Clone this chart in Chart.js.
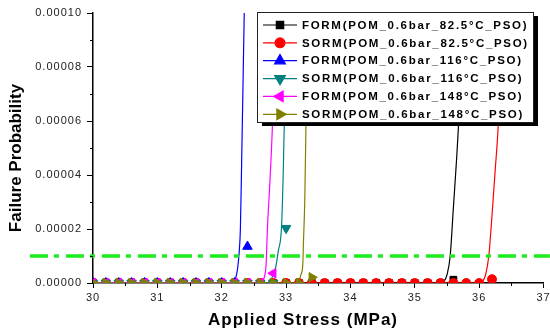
<!DOCTYPE html>
<html>
<head>
<meta charset="utf-8">
<script src="https://cdn.jsdelivr.net/npm/chart.js@4.4.1/dist/chart.umd.min.js"></script>
<style>
  html, body { margin: 0; padding: 0; background: #fff; }
</style>
</head>
<body>
<canvas id="chart" width="550" height="332"></canvas>
<script>
// stress values (MPa) where the symbols are placed
const markerStress = [30.0, 30.2, 30.4, 30.6, 30.8, 31.0, 31.2, 31.4, 31.6, 31.8,
                      32.0, 32.2, 32.4, 32.6, 32.8, 33.0, 33.2, 33.4, 33.6, 33.8,
                      34.0, 34.2, 34.4, 34.6, 34.8, 35.0, 35.2, 35.4, 35.6, 35.8,
                      36.0, 36.2];

// symbol probabilities, same index as markerStress
const formSym82  = [0, 0, 0, 0, 0, 0, 0, 0, 0, 0, 0, 0, 0, 0, 0, 0, 0, 0, 0, 0,
                    0, 0, 0, 0, 0, 0, 0, 0, 0.0000012];
const sormSym82  = [0, 0, 0, 0, 0, 0, 0, 0, 0, 0, 0, 0, 0, 0, 0, 0, 0, 0, 0, 0,
                    0, 0, 0, 0, 0, 0, 0, 0, 0, 0, 0, 0.0000014];
const formSym116 = [0, 0, 0, 0, 0, 0, 0, 0, 0, 0, 0, 0, 0.0000135];
const sormSym116 = [0, 0, 0, 0, 0, 0, 0, 0, 0, 0, 0, 0, 0, 0, 0, 0.0000203];
const formSym148 = [0, 0, 0, 0, 0, 0, 0, 0, 0, 0, 0, 0, 0, 0, 0.0000036];
const sormSym148 = [0, 0, 0, 0, 0, 0, 0, 0, 0, 0, 0, 0, 0, 0, 0, 0, 0, 0.0000021];

// failure probability curves
const formCurve82X  = [30, 35.40, 35.45, 35.50, 35.55, 35.60, 35.65, 35.70, 35.78];
const formCurve82Y  = [0, 0, 0.0000005, 0.000003, 0.00001, 0.000028, 0.000046, 0.000067, 0.00011];
const sormCurve82X  = [30, 36.00, 36.05, 36.10, 36.15, 36.20, 36.25, 36.30, 36.37];
const sormCurve82Y  = [0, 0, 0.0000005, 0.000003, 0.00001, 0.000025, 0.000042, 0.00006, 0.00011];
const formCurve116X = [30, 32.15, 32.20, 32.23, 32.25, 32.27, 32.29, 32.31, 32.35, 32.38];
const formCurve116Y = [0, 0, 0.000001, 0.000003, 0.000006, 0.000011, 0.00002, 0.000045, 0.0001, 0.00014];
const sormCurve116X = [30, 32.70, 32.76, 32.80, 32.84, 32.88, 32.93, 32.96, 32.99, 33.01, 33.03];
const sormCurve116Y = [0, 0, 0.000001, 0.000003, 0.000006, 0.000012, 0.000021, 0.000045, 0.00008, 0.0001, 0.00012];
const formCurve148X = [30, 32.58, 32.63, 32.66, 32.69, 32.71, 32.75, 32.79, 32.83, 32.86];
const formCurve148Y = [0, 0, 0.0000005, 0.000002, 0.000007, 0.00002, 0.000038, 0.00006, 0.0001, 0.00013];
const sormCurve148X = [30, 33.16, 33.20, 33.23, 33.26, 33.27, 33.29, 33.31, 33.34, 33.36];
const sormCurve148Y = [0, 0, 0.000001, 0.000003, 0.000007, 0.000015, 0.00003, 0.00006, 0.0001, 0.00013];

// target probability level (dash-dot line)
const targetProbability = 0.00001;
const targetStress = [29.02, 37.1];

const FONT = "'Liberation Sans', Arial, sans-serif";

const series = [
  { name: 'FORM(POM_0.6bar_82.5°C_PSO)', color: '#000000', style: 'rect',     rot: 0,   r: 4.8, cx: formCurve82X,  cy: formCurve82Y,  sym: formSym82 },
  { name: 'SORM(POM_0.6bar_82.5°C_PSO)', color: '#ff0000', style: 'circle',   rot: 0,   r: 4.5, cx: sormCurve82X,  cy: sormCurve82Y,  sym: sormSym82 },
  { name: 'FORM(POM_0.6bar_116°C_PSO)',  color: '#0000ff', style: 'triangle', rot: 0,   r: 5.5, cx: formCurve116X, cy: formCurve116Y, sym: formSym116 },
  { name: 'SORM(POM_0.6bar_116°C_PSO)',  color: '#008080', style: 'triangle', rot: 180, r: 5.5, cx: sormCurve116X, cy: sormCurve116Y, sym: sormSym116 },
  { name: 'FORM(POM_0.6bar_148°C_PSO)',  color: '#ff00ff', style: 'triangle', rot: -90, r: 5.5, cx: formCurve148X, cy: formCurve148Y, sym: formSym148 },
  { name: 'SORM(POM_0.6bar_148°C_PSO)',  color: '#808000', style: 'triangle', rot: 90,  r: 5.5, cx: sormCurve148X, cy: sormCurve148Y, sym: sormSym148 }
];

const datasets = [];
series.forEach((s, i) => {
  const base = (series.length - i) * 2;
  datasets.push({
    label: s.name,
    data: s.cx.map((x, k) => ({ x: x, y: s.cy[k] })),
    borderColor: s.color,
    borderWidth: 1.2,
    pointRadius: 0,
    cubicInterpolationMode: 'monotone',
    order: base
  });
  datasets.push({
    label: s.name + ' symbols',
    data: s.sym.map((y, k) => ({ x: markerStress[k], y: y })),
    showLine: false,
    pointStyle: s.style,
    rotation: s.rot,
    pointRadius: s.r,
    pointBackgroundColor: s.color,
    pointBorderColor: s.color,
    pointBorderWidth: 1,
    clip: 0,
    order: base - 1
  });
});
datasets.push({
  label: 'target',
  data: targetStress.map(x => ({ x: x, y: targetProbability })),
  borderColor: 'rgb(30,235,30)',
  borderWidth: 3.5,
  borderDash: [18, 6, 5, 7],
  pointRadius: 0,
  clip: false,
  order: 0
});

// short ticks between labelled ones
const minorTicks = {
  id: 'minorTicks',
  afterDraw(chart) {
    const ctx = chart.ctx;
    const xs = chart.scales.x, ys = chart.scales.y;
    ctx.save();
    ctx.strokeStyle = '#000';
    ctx.lineWidth = 1;
    ctx.beginPath();
    xs.ticks.forEach((t, i) => {
      if (i % 2 === 1) {
        const px = Math.round(xs.getPixelForValue(t.value)) + 0.5;
        ctx.moveTo(px, xs.top);
        ctx.lineTo(px, xs.top + 3);
      }
    });
    ys.ticks.forEach((t, i) => {
      if (i % 2 === 1) {
        const py = Math.round(ys.getPixelForValue(t.value)) + 0.5;
        ctx.moveTo(ys.right - 3, py);
        ctx.lineTo(ys.right, py);
      }
    });
    ctx.stroke();
    ctx.restore();
  }
};

const axisTitles = {
  id: 'axisTitles',
  beforeDraw(chart) {
    chart.ctx.letterSpacing = '1px';
  },
  afterDraw(chart) {
    const ctx = chart.ctx;
    ctx.save();
    ctx.fillStyle = '#000';
    ctx.font = 'bold 17px ' + FONT;
    ctx.letterSpacing = '1px';
    ctx.textAlign = 'center';
    ctx.textBaseline = 'middle';
    ctx.fillText('Applied Stress (MPa)', 303, 320);
    ctx.letterSpacing = '0px';
    ctx.translate(16, 158);
    ctx.rotate(-Math.PI / 2);
    ctx.fillText('Failure Probability', 0, 0);
    ctx.restore();
  }
};

// boxed legend with drop shadow, line + symbol samples
const boxLegend = {
  id: 'boxLegend',
  afterDraw(chart) {
    const ctx = chart.ctx;
    const bx = 257, by = 12, bw = 276, bh = 110;
    ctx.save();
    ctx.fillStyle = '#000';
    ctx.fillRect(bx + 5, by + 4, bw, bh);
    ctx.fillStyle = '#fff';
    ctx.fillRect(bx, by, bw, bh);
    ctx.strokeStyle = '#222';
    ctx.lineWidth = 1;
    ctx.strokeRect(bx + 0.5, by + 0.5, bw, bh);
    series.forEach((s, i) => {
      const y = by + 13 + i * 17.86;
      ctx.strokeStyle = s.color;
      ctx.lineWidth = 1.2;
      ctx.beginPath();
      ctx.moveTo(bx + 6, y);
      ctx.lineTo(bx + 40, y);
      ctx.stroke();
      ctx.fillStyle = s.color;
      Chart.helpers.drawPoint(ctx, {
        pointStyle: s.style, rotation: s.rot,
        radius: s.style === 'triangle' ? 6.2 : s.r + 0.4, borderWidth: 1
      }, bx + 23, y);
      ctx.fillStyle = '#000';
      ctx.font = 'bold 11.5px ' + FONT;
      ctx.letterSpacing = '1.7px';
      ctx.textAlign = 'left';
      ctx.textBaseline = 'middle';
      ctx.fillText(s.name, bx + 45, y + 0.5);
    });
    ctx.restore();
  }
};

new Chart(document.getElementById('chart'), {
  type: 'line',
  data: { datasets: datasets },
  options: {
    responsive: false,
    animation: false,
    devicePixelRatio: 1,
    layout: { padding: { left: 0, right: 4, top: 13, bottom: 0 } },
    plugins: { legend: { display: false }, tooltip: { enabled: false } },
    scales: {
      x: {
        type: 'linear',
        min: 30,
        max: 37,
        afterFit(scale) {
          scale.height = 49;
          scale.paddingLeft = 0;
          scale.paddingRight = 0;
        },
        border: { color: '#000', width: 1.5 },
        grid: {
          drawOnChartArea: false,
          tickLength: 5,
          tickWidth: 1,
          tickColor: c => (c.index % 2 === 0 ? '#000' : 'rgba(0,0,0,0)')
        },
        ticks: {
          stepSize: 0.5,
          autoSkip: false,
          maxRotation: 0,
          padding: 3,
          color: '#222',
          font: { family: FONT, size: 11 },
          callback: (v, i) => (i % 2 === 0 ? String(v) : '')
        }
      },
      y: {
        type: 'linear',
        min: 0,
        max: 0.0001,
        afterFit(scale) {
          scale.width = 93;
          scale.paddingTop = 0;
          scale.paddingBottom = 0;
        },
        border: { color: '#000', width: 1.5 },
        grid: {
          drawOnChartArea: false,
          tickLength: 6,
          tickWidth: 1,
          tickColor: c => (c.index % 2 === 0 ? '#000' : 'rgba(0,0,0,0)')
        },
        ticks: {
          stepSize: 0.00001,
          autoSkip: false,
          padding: 5,
          color: '#222',
          font: { family: FONT, size: 11 },
          callback: (v, i) => (i % 2 === 0 ? v.toFixed(5) : '')
        }
      }
    }
  },
  plugins: [axisTitles, minorTicks, boxLegend]
});
</script>
</body>
</html>
